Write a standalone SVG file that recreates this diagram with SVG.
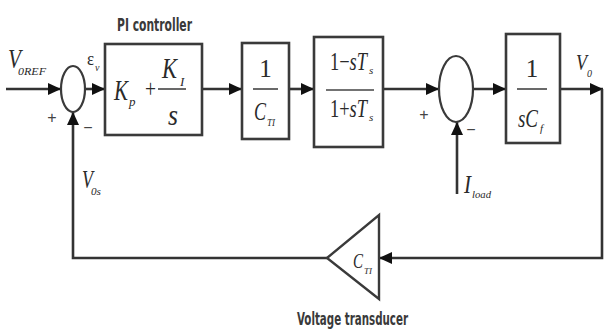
<svg xmlns="http://www.w3.org/2000/svg" width="604" height="334" viewBox="0 0 604 334">
  <style>
    .box { fill: #fff; stroke: #3a3a3a; stroke-width: 2.6; }
    .sum { fill: #fff; stroke: #3a3a3a; stroke-width: 2.2; }
    .wire { fill: none; stroke: #333; stroke-width: 2.6; }
    .frac { stroke: #444; stroke-width: 1.6; }
    .m { font-family: "Liberation Serif", "Times New Roman", serif; font-style: italic; fill: #2a2a2a; }
    .up { font-family: "Liberation Serif", "Times New Roman", serif; fill: #2a2a2a; }
    .lbl { font-family: "Liberation Sans Narrow", "DejaVu Sans Condensed", "Liberation Sans", sans-serif; fill: #3a3a3a; font-weight: 600; }
    .sign { font-family: "Liberation Sans", sans-serif; fill: #444; }
  </style>
  <defs>
    <marker id="ah" markerUnits="userSpaceOnUse" markerWidth="14" markerHeight="14" viewBox="0 0 14 14" refX="13" refY="7" orient="auto">
      <path d="M0,1 L13,7 L0,13 Z" fill="#111"/>
    </marker>
  </defs>

  <!-- connectors -->
  <g id="connectors">
    <line class="wire" x1="6" y1="89" x2="61" y2="89" marker-end="url(#ah)"/>
    <line class="wire" x1="85" y1="89" x2="105" y2="89" marker-end="url(#ah)"/>
    <line class="wire" x1="202" y1="89" x2="242" y2="89" marker-end="url(#ah)"/>
    <line class="wire" x1="289" y1="89" x2="314" y2="89" marker-end="url(#ah)"/>
    <line class="wire" x1="383" y1="89" x2="439" y2="89" marker-end="url(#ah)"/>
    <line class="wire" x1="473" y1="89" x2="506" y2="89" marker-end="url(#ah)"/>
    <line class="wire" x1="560" y1="89" x2="603" y2="89" marker-end="url(#ah)"/>
    <polyline class="wire" points="602,89 602,258 379,258" marker-end="url(#ah)"/>
    <polyline class="wire" points="327,258 73,258 73,112" marker-end="url(#ah)"/>
    <line class="wire" x1="457" y1="194" x2="457" y2="122" marker-end="url(#ah)"/>
  </g>

  <!-- input label -->
  <g id="input-label">
    <text class="m" x="8" y="68" font-size="28" textLength="13" lengthAdjust="spacingAndGlyphs">V</text>
    <text class="m" x="18" y="75" font-size="10" textLength="28" lengthAdjust="spacingAndGlyphs">0REF</text>
  </g>

  <!-- summing junction 1 -->
  <g id="sum1">
    <ellipse class="sum" cx="73" cy="89" rx="12" ry="23"/>
    <text class="sign" x="52" y="123" font-size="16" text-anchor="middle">+</text>
    <text class="sign" x="88" y="133" font-size="16" text-anchor="middle">−</text>
    <text class="up" x="87" y="65" font-size="18" textLength="7" lengthAdjust="spacingAndGlyphs">ε</text>
    <text class="m" x="95" y="71" font-size="10">v</text>
  </g>

  <!-- PI controller -->
  <g id="pi">
    <text class="lbl" x="117" y="31" font-size="17" textLength="75" lengthAdjust="spacingAndGlyphs">PI controller</text>
    <rect class="box" x="105" y="44" width="97" height="91"/>
    <text class="m" x="114" y="100" font-size="30" textLength="14" lengthAdjust="spacingAndGlyphs">K</text>
    <text class="m" x="129" y="106" font-size="13">p</text>
    <text class="up" x="145" y="97" font-size="26" textLength="11" lengthAdjust="spacingAndGlyphs">+</text>
    <text class="m" x="162" y="78" font-size="30" textLength="15" lengthAdjust="spacingAndGlyphs">K</text>
    <text class="m" x="180" y="86" font-size="13">I</text>
    <line class="frac" x1="158" y1="89" x2="186" y2="89"/>
    <text class="m" x="168" y="125" font-size="30" textLength="10" lengthAdjust="spacingAndGlyphs">s</text>
  </g>

  <!-- 1/C_TI -->
  <g id="gain">
    <rect class="box" x="242" y="43" width="47" height="96"/>
    <text class="up" x="265.5" y="77" font-size="25" text-anchor="middle">1</text>
    <line class="frac" x1="253" y1="89" x2="278" y2="89"/>
    <text class="m" x="254" y="120" font-size="26" textLength="12" lengthAdjust="spacingAndGlyphs">C</text>
    <text class="m" x="267" y="126" font-size="10" textLength="8" lengthAdjust="spacingAndGlyphs">TI</text>
  </g>

  <!-- (1 - sTs)/(1 + sTs) -->
  <g id="delay">
    <rect class="box" x="314" y="37" width="69" height="110"/>
    <text class="up" x="330" y="70" font-size="25" textLength="37" lengthAdjust="spacingAndGlyphs">1−<tspan font-style="italic">sT</tspan></text>
    <text class="m" x="369" y="74" font-size="11">s</text>
    <line class="frac" x1="326" y1="90" x2="374" y2="90"/>
    <text class="up" x="330" y="117" font-size="25" textLength="37" lengthAdjust="spacingAndGlyphs">1+<tspan font-style="italic">sT</tspan></text>
    <text class="m" x="369" y="121" font-size="11">s</text>
  </g>

  <!-- summing junction 2 -->
  <g id="sum2">
    <ellipse class="sum" cx="456" cy="89" rx="17" ry="33"/>
    <text class="sign" x="424" y="120" font-size="16" text-anchor="middle">+</text>
    <text class="sign" x="471" y="135" font-size="16" text-anchor="middle">−</text>
  </g>

  <!-- I_load label -->
  <g id="load-label">
    <text class="m" x="464" y="193" font-size="26" textLength="7" lengthAdjust="spacingAndGlyphs">I</text>
    <text class="m" x="472" y="198" font-size="10" textLength="19" lengthAdjust="spacingAndGlyphs">load</text>
  </g>

  <!-- 1/sCf -->
  <g id="plant">
    <rect class="box" x="506" y="34" width="54" height="109"/>
    <text class="up" x="532" y="77" font-size="25" text-anchor="middle">1</text>
    <line class="frac" x1="517" y1="89" x2="547" y2="89"/>
    <text class="m" x="518" y="127" font-size="26" textLength="20" lengthAdjust="spacingAndGlyphs">sC</text>
    <text class="m" x="540" y="132" font-size="11">f</text>
  </g>

  <!-- output label -->
  <g id="output-label">
    <text class="m" x="576" y="70" font-size="24" textLength="11" lengthAdjust="spacingAndGlyphs">V</text>
    <text class="m" x="587" y="77" font-size="10">0</text>
  </g>

  <!-- feedback label -->
  <g id="feedback-label">
    <text class="m" x="82" y="188" font-size="26" textLength="11" lengthAdjust="spacingAndGlyphs">V</text>
    <text class="m" x="91" y="195" font-size="10" textLength="10" lengthAdjust="spacingAndGlyphs">0s</text>
  </g>

  <!-- voltage transducer -->
  <g id="transducer">
    <polygon points="327,258 379,215 379,299" fill="#fff" stroke="#3a3a3a" stroke-width="2.4" stroke-linejoin="miter"/>
    <text class="m" x="353" y="268" font-size="22" textLength="10" lengthAdjust="spacingAndGlyphs">C</text>
    <text class="m" x="364" y="274" font-size="9" textLength="8" lengthAdjust="spacingAndGlyphs">TI</text>
    <text class="lbl" x="297" y="325" font-size="18" textLength="111" lengthAdjust="spacingAndGlyphs">Voltage transducer</text>
  </g>
</svg>
